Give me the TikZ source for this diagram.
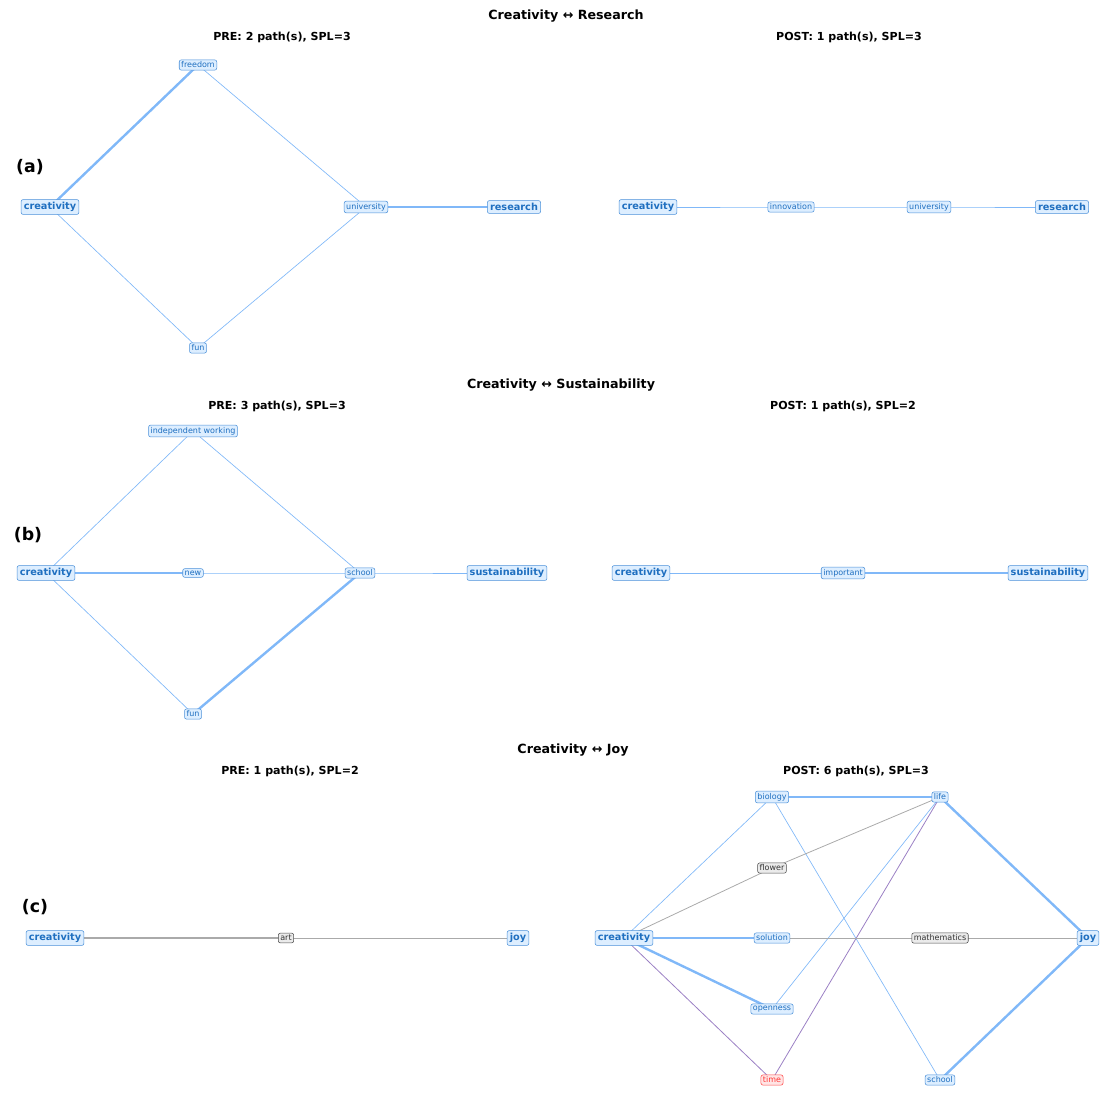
\documentclass[tikz,border=0pt]{standalone}
\usepackage{fontspec}
\setmainfont{DejaVu Sans}
\usetikzlibrary{backgrounds}
\definecolor{nodefill}{HTML}{DDEEFF}
\definecolor{nodeline}{HTML}{4A90D9}
\definecolor{nodetext}{HTML}{1F6FC0}
\definecolor{edgeblue}{HTML}{80B8F8}
\definecolor{edgegray}{HTML}{AAAAAA}
\definecolor{edgepurple}{HTML}{9B80C4}
\tikzset{
  word/.style={draw=nodeline, fill=nodefill, text=nodetext, rounded corners=1.5pt, inner sep=1.5pt, font=\fontsize{6}{7}\selectfont},
  ends/.style={word, font=\fontsize{7.3}{8}\selectfont\bfseries, inner sep=2pt},
  grayword/.style={word, draw=black!70, fill=black!8, text=black!80},
  redword/.style={word, draw=red!70, fill=red!10, text=red!80},
  thin/.style={edgeblue, line width=0.5pt},
  thick/.style={edgeblue, line width=1.8pt},
  gthin/.style={edgegray, line width=0.6pt},
  gthick/.style={edgegray, line width=1.8pt},
  pthin/.style={edgepurple, line width=0.6pt},
  title/.style={font=\fontsize{9.5}{11}\selectfont\bfseries},
  sub/.style={font=\fontsize{8.3}{10}\selectfont\bfseries},
  tag/.style={font=\fontsize{13}{15}\selectfont\bfseries}
}
\begin{document}
\begin{tikzpicture}[x=0.75pt,y=-0.75pt]
\useasboundingbox (0,0) rectangle (1112,1098);
% (a)
\node[title] (ta) at (566,16) {Creativity ↔ Research};
\node[sub] (tapre) at (282,37) {PRE: 2 path(s), SPL=3};
\node[sub] (tapost) at (849,37) {POST: 1 path(s), SPL=3};
\node[tag] (la) at (30,167) {(a)};
\node[ends] (a1) at (50,207) {creativity};
\node[word] (a2) at (198,65) {freedom};
\node[word] (a3) at (366,207) {university};
\node[ends] (a4) at (514,207) {research};
\node[word] (a5) at (198,348) {fun};
\node[ends] (b1) at (648,207) {creativity};
\node[word] (b2) at (791,207) {innovation};
\node[word] (b3) at (929,207) {university};
\node[ends] (b4) at (1062,207) {research};
% (b)
\node[title] (tb) at (561,385) {Creativity ↔ Sustainability};
\node[sub] (tbpre) at (277,406) {PRE: 3 path(s), SPL=3};
\node[sub] (tbpost) at (843,406) {POST: 1 path(s), SPL=2};
\node[tag] (lb) at (28,535) {(b)};
\node[ends] (c1) at (46,573) {creativity};
\node[word] (c2) at (193,573) {new};
\node[word] (c3) at (360,573) {school};
\node[ends] (c4) at (507,573) {sustainability};
\node[word] (c5) at (193,431) {independent working};
\node[word] (c6) at (193,714) {fun};
\node[ends] (d1) at (641,573) {creativity};
\node[word] (d2) at (843,573) {important};
\node[ends] (d3) at (1048,573) {sustainability};
% (c)
\node[title] (tc) at (573,750) {Creativity ↔ Joy};
\node[sub] (tcpre) at (290,771) {PRE: 1 path(s), SPL=2};
\node[sub] (tcpost) at (856,771) {POST: 6 path(s), SPL=3};
\node[tag] (lc) at (35,907) {(c)};
\node[ends] (e1) at (55,938) {creativity};
\node[grayword] (e2) at (286,938) {art};
\node[ends] (e3) at (518,938) {joy};
\node[ends] (f1) at (624,938) {creativity};
\node[word] (f2) at (772,797) {biology};
\node[word] (f3) at (940,797) {life};
\node[grayword] (f4) at (772,868) {flower};
\node[word] (f5) at (772,938) {solution};
\node[grayword] (f6) at (940,938) {mathematics};
\node[ends] (f7) at (1088,938) {joy};
\node[word] (f8) at (772,1009) {openness};
\node[redword] (f9) at (772,1080) {time};
\node[word] (f10) at (940,1080) {school};
\begin{scope}[on background layer]
% edges (a)
\draw[thick] (a1.center) -- (a2.center);
\draw[thin] (a2.center) -- (a3.center);
\draw[thick] (a3.center) -- (a4.center);
\draw[thin] (a1.center) -- (a5.center);
\draw[thin] (a5.center) -- (a3.center);
\draw[thin] (b1.center) -- (b2.center) -- (b3.center) -- (b4.center);
% edges (b)
\draw[thin] (c1.center) -- (c5.center) -- (c3.center);
\draw[thick] (c1.center) -- (c2.center);
\draw[thin] (c2.center) -- (c3.center) -- (c4.center);
\draw[thin] (c1.center) -- (c6.center);
\draw[thick] (c6.center) -- (c3.center);
\draw[thin] (d1.center) -- (d2.center);
\draw[thick] (d2.center) -- (d3.center);
% edges (c)
\draw[gthick] (e1.center) -- (e2.center);
\draw[gthin] (e2.center) -- (e3.center);
\draw[thick] (f2.center) -- (f3.center);
\draw[thin] (f1.center) -- (f2.center);
\draw[thin] (f2.center) -- (f10.center);
\draw[gthin] (f1.center) -- (f4.center) -- (f3.center);
\draw[thin] (f3.center) -- (f8.center);
\draw[pthin] (f3.center) -- (f9.center);
\draw[thick] (f3.center) -- (f7.center);
\draw[thick] (f1.center) -- (f5.center);
\draw[gthin] (f5.center) -- (f6.center) -- (f7.center);
\draw[thick] (f1.center) -- (f8.center);
\draw[pthin] (f1.center) -- (f9.center);
\draw[thick] (f10.center) -- (f7.center);
\end{scope}
\end{tikzpicture}
\end{document}
